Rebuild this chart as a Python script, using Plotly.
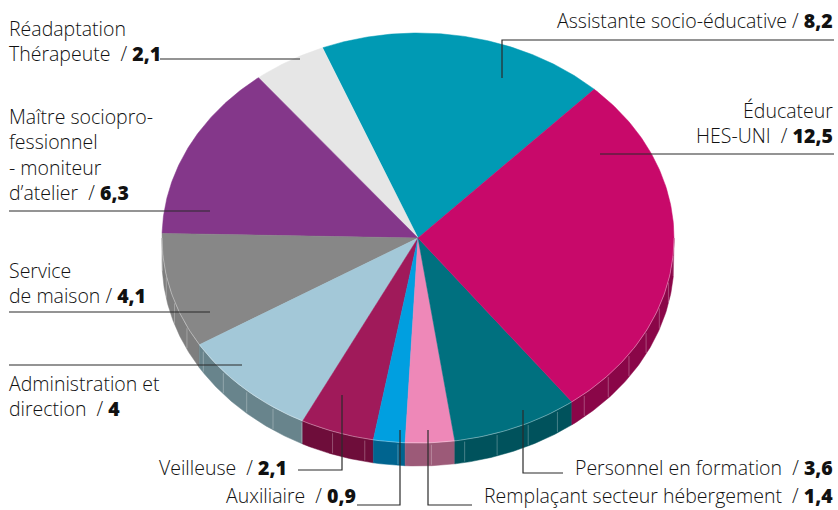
import numpy as np
import plotly.graph_objects as go

# ---------------- data ----------------
categories = [
    "Assistante socio-éducative",
    "Réadaptation Thérapeute",
    "Maître socioprofessionnel - moniteur d'atelier",
    "Service de maison",
    "Administration et direction",
    "Veilleuse",
    "Auxiliaire",
    "Remplaçant secteur hébergement",
    "Personnel en formation",
    "Éducateur HES-UNI",
]
values = [8.2, 2.1, 6.3, 4.1, 4.0, 2.1, 0.9, 1.4, 3.6, 12.5]
value_labels = ["8,2", "2,1", "6,3", "4,1", "4", "2,1", "0,9", "1,4", "3,6", "12,5"]

# ---------------- style ----------------
top_colors = ["#009AB4", "#E6E6E6", "#84378A", "#878787", "#A3C8D8",
              "#A01A5A", "#009FE0", "#EE88B8", "#00707F", "#C8096A"]
side_colors = ["#007A8E", "#B8B8B8", "#6A2B6E", "#7E7E7E", "#68848C",
               "#6E0D3A", "#00648F", "#9C5A78", "#00525C", "#8A0648"]

W, H = 838, 510
cx, cy = 418, 238      # centre of the top face
rx, ry = 256, 205      # ellipse radii
depth = 23             # thickness of the pie
start_deg = 46.5       # angle of first slice's starting edge (counter-clockwise)

fig = go.Figure()

total = sum(values)
bounds = [start_deg]
for v in values:
    bounds.append(bounds[-1] + v / total * 360.0)


def pt(deg, dz=0.0):
    t = np.radians(deg)
    return cx + rx * np.cos(t), cy - ry * np.sin(t) + dz


# ---------- sides (front half only: 180..360 deg) ----------
for i in range(len(values)):
    a0, a1 = bounds[i], bounds[i + 1]
    segs = []
    for lo, hi in [(180, 360), (540, 720), (-180, 0)]:
        s, e = max(a0, lo), min(a1, hi)
        if e > s:
            segs.append((s, e))
    for s, e in segs:
        ts = np.linspace(s, e, 80)
        xs_top, ys_top = pt(ts)
        xs_bot, ys_bot = pt(ts[::-1], depth)
        xs = np.concatenate([xs_top, xs_bot, xs_top[:1]])
        ys = np.concatenate([ys_top, ys_bot, ys_top[:1]])
        fig.add_trace(go.Scatter(x=xs, y=ys, mode="lines", fill="toself",
                                 fillcolor=side_colors[i],
                                 line=dict(color=side_colors[i], width=0.5),
                                 hoverinfo="skip", showlegend=False))

# facet lines on the side
fx, fy = [], []
for d in np.arange(183.0, 360.0, 7.5):
    x0, y0 = pt(d)
    x1, y1 = pt(d, depth)
    fx += [x0, x1, None]
    fy += [y0 + 2, y1 - 1, None]
fig.add_trace(go.Scatter(x=fx, y=fy, mode="lines",
                         line=dict(color="rgba(255,255,255,0.35)", width=0.8),
                         hoverinfo="skip", showlegend=False))

# ---------- top faces ----------
for i in range(len(values)):
    a0, a1 = bounds[i], bounds[i + 1]
    ts = np.linspace(a0, a1, 120)
    xa, ya = pt(ts)
    xs = np.concatenate([[cx], xa, [cx]])
    ys = np.concatenate([[cy], ya, [cy]])
    fig.add_trace(go.Scatter(x=xs, y=ys, mode="lines", fill="toself",
                             fillcolor=top_colors[i],
                             line=dict(color=top_colors[i], width=0.5),
                             hoverinfo="skip", showlegend=False,
                             name=categories[i]))

# light rim along the front edge of the top face
ts = np.linspace(180, 360, 200)
rxs, rys = pt(ts)
fig.add_trace(go.Scatter(x=rxs, y=rys, mode="lines",
                         line=dict(color="rgba(255,255,255,0.45)", width=0.8),
                         hoverinfo="skip", showlegend=False))

# ---------- labels & leader lines ----------
FONT = dict(family="Open Sans, Noto Sans, sans-serif", size=19.5, color="#111111",
            weight=340)
LINE = dict(color="#2b2b2b", width=1.2)


def lbl(text, x, y, xanchor, align):
    fig.add_annotation(x=x, y=y, xref="x", yref="y", text=text, showarrow=False,
                       xanchor=xanchor, yanchor="middle", align=align, font=FONT,
                       borderpad=0)


def leader(xs, ys):
    fig.add_trace(go.Scatter(x=xs, y=ys, mode="lines", line=LINE,
                             hoverinfo="skip", showlegend=False))


def num(s):
    return f"<span style='font-weight:800'>{s}</span>"


v = value_labels
lbl(f"Assistante socio-éducative / {num(v[0])}", 834, 20, "right", "right")
leader([502, 502, 834], [78, 40, 40])

lbl(f"Éducateur<br>HES-UNI  / {num(v[9])}", 834, 123, "right", "right")
leader([600, 834], [154, 154])

lbl(f"Réadaptation<br>Thérapeute  / {num(v[1])}", 8, 41, "left", "left")
leader([160, 300], [59, 59])

lbl(f"Maître sociopro-<br>fessionnel<br>- moniteur<br>d’atelier  / {num(v[2])}", 8, 154, "left", "left")
leader([9, 210], [211, 211])

lbl(f"Service<br>de maison / {num(v[3])}", 8, 283, "left", "left")
leader([9, 210], [312, 312])

leader([9, 242], [365, 365])
lbl(f"Administration et<br>direction  / {num(v[4])}", 8, 396, "left", "left")

lbl(f"Veilleuse  / {num(v[5])}", 288, 467, "right", "right")
leader([298, 342, 342], [470, 470, 395])

lbl(f"Auxiliaire  / {num(v[6])}", 357, 495, "right", "right")
leader([357, 400, 400], [505, 505, 430])

lbl(f"Remplaçant secteur hébergement  / {num(v[7])}", 834, 495, "right", "right")
leader([472, 428, 428], [505, 505, 430])

lbl(f"Personnel en formation  / {num(v[8])}", 834, 467, "right", "right")
leader([563, 523, 523], [473, 473, 410])

fig.update_layout(
    width=W, height=H,
    margin=dict(l=0, r=0, t=0, b=0),
    paper_bgcolor="white", plot_bgcolor="white",
    xaxis=dict(range=[0, W], visible=False, fixedrange=True),
    yaxis=dict(range=[H, 0], visible=False, fixedrange=True),
    showlegend=False,
)

fig.write_html("out.html")
